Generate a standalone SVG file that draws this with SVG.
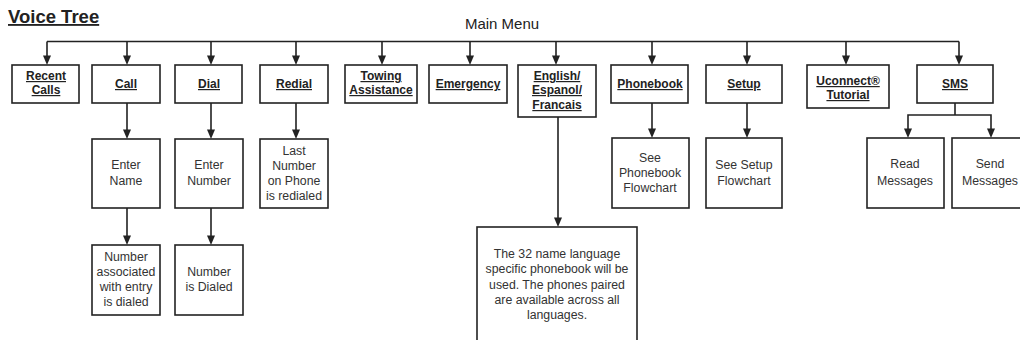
<svg xmlns="http://www.w3.org/2000/svg" width="1020" height="340" viewBox="0 0 1020 340">
<style>
.box{fill:#fff;stroke:#222;stroke-width:1.6}
.lbl{font-family:"Liberation Sans",Arial,sans-serif;font-weight:bold;font-size:12px;fill:#222;text-anchor:middle;text-decoration:underline}
.txt{font-family:"Liberation Sans",Arial,sans-serif;font-size:12.3px;fill:#333;text-anchor:middle}
.ln{fill:none;stroke:#222;stroke-width:1.6}
.ah{fill:#222}
</style>
<defs>
<polygon id="arr" points="-4,-9.5 4,-9.5 0,0"/>
</defs>
<rect width="1020" height="340" fill="#fff"/>
<text x="8" y="23" font-family="Liberation Sans,Arial,sans-serif" font-weight="bold" font-size="18.5px" fill="#222" text-decoration="underline">Voice Tree</text>
<text x="502" y="29" font-family="Liberation Sans,Arial,sans-serif" font-size="15px" fill="#222" text-anchor="middle">Main Menu</text>

<g id="connectors">
<path class="ln" d="M47,41.5 H959"/>
<path class="ln" d="M47,41.5 V57 M127,41.5 V57 M211,41.5 V57 M296,41.5 V57 M382,41.5 V57 M470,41.5 V57 M556,41.5 V57 M652,41.5 V57 M747,41.5 V57 M846,41.5 V57 M959,41.5 V57"/>
<use href="#arr" x="47" y="65" class="ah"/>
<use href="#arr" x="127" y="65" class="ah"/>
<use href="#arr" x="211" y="65" class="ah"/>
<use href="#arr" x="296" y="65" class="ah"/>
<use href="#arr" x="382" y="65" class="ah"/>
<use href="#arr" x="470" y="65" class="ah"/>
<use href="#arr" x="556" y="65" class="ah"/>
<use href="#arr" x="652" y="65" class="ah"/>
<use href="#arr" x="747" y="65" class="ah"/>
<use href="#arr" x="846" y="65" class="ah"/>
<use href="#arr" x="959" y="65" class="ah"/>
<path class="ln" d="M127,103 V131 M127,208 V237 M211,103 V131 M211,208 V237 M296,103 V131 M558,117 V219 M652,103 V130 M747,103 V130"/>
<use href="#arr" x="127" y="139" class="ah"/>
<use href="#arr" x="127" y="245" class="ah"/>
<use href="#arr" x="211" y="139" class="ah"/>
<use href="#arr" x="211" y="245" class="ah"/>
<use href="#arr" x="296" y="139" class="ah"/>
<use href="#arr" x="558" y="227" class="ah"/>
<use href="#arr" x="652" y="138" class="ah"/>
<use href="#arr" x="747" y="138" class="ah"/>
<path class="ln" d="M955,103 V115 M908,130 V115 H991 V130"/>
<use href="#arr" x="908" y="138" class="ah"/>
<use href="#arr" x="991" y="138" class="ah"/>
</g>

<g id="recent"><rect class="box" x="12" y="65" width="67" height="38"/><text class="lbl" x="46" y="80">Recent</text><text class="lbl" x="46" y="94">Calls</text></g>
<g id="call"><rect class="box" x="92" y="65" width="68" height="38"/><text class="lbl" x="126" y="88">Call</text></g>
<g id="dial"><rect class="box" x="175" y="65" width="67" height="38"/><text class="lbl" x="209" y="88">Dial</text></g>
<g id="redial"><rect class="box" x="260" y="65" width="68" height="38"/><text class="lbl" x="294" y="88">Redial</text></g>
<g id="towing"><rect class="box" x="345" y="65" width="72" height="38"/><text class="lbl" x="381" y="80">Towing</text><text class="lbl" x="381" y="94">Assistance</text></g>
<g id="emergency"><rect class="box" x="429" y="65" width="78" height="38"/><text class="lbl" x="468" y="88">Emergency</text></g>
<g id="english"><rect class="box" x="518" y="65" width="78" height="52"/><text class="lbl" x="557" y="80">English/</text><text class="lbl" x="557" y="94">Espanol/</text><text class="lbl" x="557" y="109">Francais</text></g>
<g id="phonebook"><rect class="box" x="611" y="65" width="77" height="38"/><text class="lbl" x="650" y="88">Phonebook</text></g>
<g id="setup"><rect class="box" x="706" y="65" width="76" height="38"/><text class="lbl" x="744" y="88">Setup</text></g>
<g id="uconnect"><rect class="box" x="807" y="65" width="82" height="43"/><text class="lbl" x="848" y="85">Uconnect®</text><text class="lbl" x="848" y="99">Tutorial</text></g>
<g id="sms"><rect class="box" x="917" y="65" width="76" height="38"/><text class="lbl" x="955" y="88">SMS</text></g>

<g id="entername"><rect class="box" x="92" y="139" width="68" height="69"/><text class="txt" x="126" y="169">Enter</text><text class="txt" x="126" y="185">Name</text></g>
<g id="enternumber"><rect class="box" x="175" y="139" width="68" height="69"/><text class="txt" x="209" y="169">Enter</text><text class="txt" x="209" y="185">Number</text></g>
<g id="lastnumber"><rect class="box" x="260" y="139" width="68" height="69"/><text class="txt" x="294" y="155">Last</text><text class="txt" x="294" y="170">Number</text><text class="txt" x="294" y="185">on Phone</text><text class="txt" x="294" y="200">is redialed</text></g>
<g id="numassoc"><rect class="box" x="92" y="245" width="68" height="70"/><text class="txt" x="126" y="261">Number</text><text class="txt" x="126" y="276">associated</text><text class="txt" x="126" y="291">with entry</text><text class="txt" x="126" y="306">is dialed</text></g>
<g id="numdialed"><rect class="box" x="175" y="245" width="68" height="70"/><text class="txt" x="209" y="276">Number</text><text class="txt" x="209" y="291">is Dialed</text></g>
<g id="langinfo"><rect class="box" x="477" y="227" width="160" height="130"/><text class="txt" x="557" y="258" font-size="12.6px">The 32 name language</text><text class="txt" x="557" y="273" font-size="12.6px">specific phonebook will be</text><text class="txt" x="557" y="289" font-size="12.6px">used. The phones paired</text><text class="txt" x="557" y="304" font-size="12.6px">are available across all</text><text class="txt" x="557" y="319" font-size="12.6px">languages.</text></g>
<g id="seephonebook"><rect class="box" x="612" y="138" width="77" height="70"/><text class="txt" x="650" y="162">See</text><text class="txt" x="650" y="177">Phonebook</text><text class="txt" x="650" y="192">Flowchart</text></g>
<g id="seesetup"><rect class="box" x="706" y="138" width="76" height="70"/><text class="txt" x="744" y="169">See Setup</text><text class="txt" x="744" y="185">Flowchart</text></g>
<g id="read"><rect class="box" x="867" y="138" width="77" height="70"/><text class="txt" x="905" y="168">Read</text><text class="txt" x="905" y="185">Messages</text></g>
<g id="send"><rect class="box" x="952" y="138" width="80" height="70"/><text class="txt" x="990" y="168">Send</text><text class="txt" x="990" y="185">Messages</text></g>
</svg>
